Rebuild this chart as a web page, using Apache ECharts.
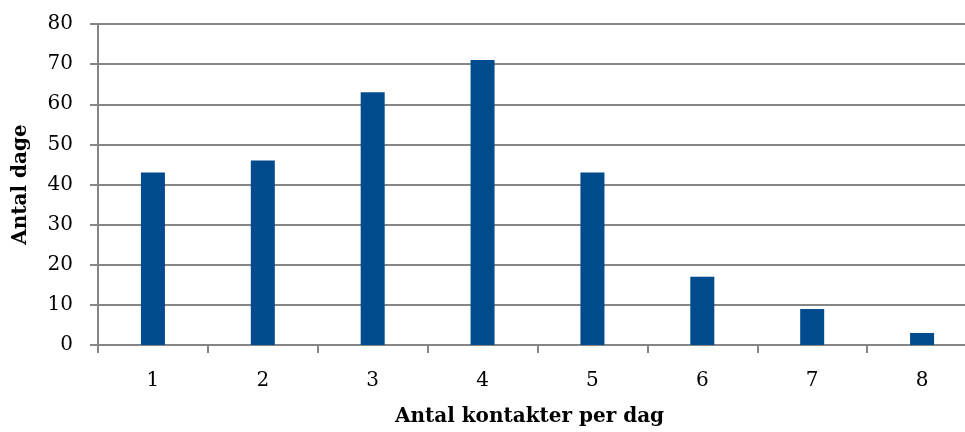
<!DOCTYPE html>
<html><head><meta charset="utf-8">
<script src="https://cdn.jsdelivr.net/npm/echarts@6/dist/echarts.min.js"></script>
<style>html,body{margin:0;padding:0;background:#fff}#c{width:965px;height:432px}</style>
</head><body><div id="c"></div>
<script>
const categories = ['1','2','3','4','5','6','7','8'];
const values = [43, 46, 63, 71, 43, 17, 9, 3];
const yTicks = [0, 10, 20, 30, 40, 50, 60, 70, 80];
const xTitle = 'Antal kontakter per dag';
const yTitle = 'Antal dage';

const font = 'DejaVu Serif';
const chart = echarts.init(document.getElementById('c'), null, {renderer:'canvas'});
chart.setOption({
  animation: false,
  grid: {left: 98, right: -12, top: 24, bottom: 87, outerBoundsMode: 'none'},
  xAxis: {
    type: 'category', data: categories,
    name: xTitle, nameLocation: 'middle', nameGap: 62,
    nameTextStyle: {fontFamily: font, fontWeight: 'bold', fontSize: 20, color: '#000', padding: [0, 16, 0, 0]},
    axisLine: {lineStyle: {color: '#868686', width: 2}},
    axisTick: {show: true, length: 8, lineStyle: {color: '#868686', width: 2}},
    axisLabel: {fontFamily: font, fontSize: 20, color: '#000', margin: 26}
  },
  yAxis: {
    type: 'value', min: yTicks[0], max: yTicks[yTicks.length-1], interval: 10,
    name: yTitle, nameLocation: 'middle', nameGap: 67,
    nameTextStyle: {fontFamily: font, fontWeight: 'bold', fontSize: 20, color: '#000'},
    axisLine: {show: true, lineStyle: {color: '#868686', width: 2}},
    axisTick: {show: true, length: 8, lineStyle: {color: '#868686', width: 2}},
    axisLabel: {fontFamily: font, fontSize: 20, color: '#000', margin: 25},
    splitLine: {lineStyle: {color: '#868686', width: 2}}
  },
  series: [{
    type: 'bar', data: values, barWidth: 24,
    itemStyle: {color: '#004B8D'}
  }]
});
</script></body></html>
